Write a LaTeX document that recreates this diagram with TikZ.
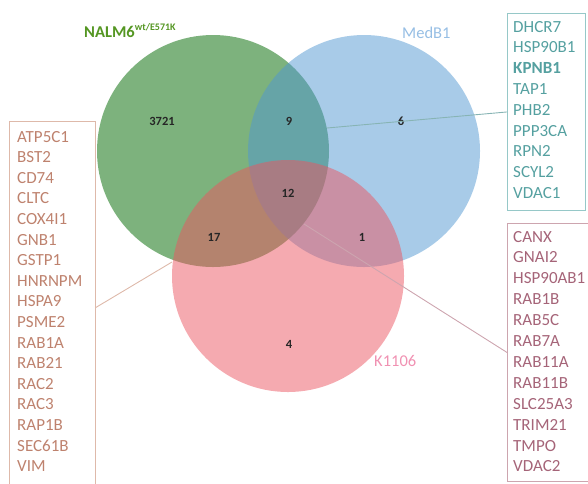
\documentclass[tikz,border=0pt]{standalone}
\usepackage{fontspec}
\setmainfont{Carlito}
\usetikzlibrary{calc}
\definecolor{cgreen}{RGB}{125,178,125}
\definecolor{cblue}{RGB}{81,151,209}
\definecolor{cpink}{RGB}{235,85,97}
\definecolor{tgreen}{RGB}{84,150,34}
\definecolor{tblue}{RGB}{150,190,228}
\definecolor{tpink}{RGB}{240,145,178}
\definecolor{tteal}{RGB}{85,160,160}
\definecolor{bteal}{RGB}{150,200,200}
\definecolor{tbrown}{RGB}{190,130,110}
\definecolor{bbrown}{RGB}{222,185,170}
\definecolor{tmauve}{RGB}{165,100,120}
\definecolor{bmauve}{RGB}{205,165,175}
\tikzset{
  setcircle/.style={circle, minimum size=232pt, inner sep=0pt},
  countlbl/.style={font=\fontsize{12.5}{14}\selectfont\bfseries, text=black!85},
  genelbl/.style={anchor=base west, inner sep=0pt, font=\fontsize{17}{20}\selectfont},
  listbox/.style={anchor=north west, inner sep=0pt, line width=0.9pt},
  conn/.style={line width=0.9pt}
}
\begin{document}
\begin{tikzpicture}[x=1pt,y=-1pt]
\useasboundingbox (0,0) rectangle (588,483);
\clip (0,0) rectangle (588,483);
% circles
\node[setcircle, fill=cgreen] (cG) at (213,151) {};
\node[setcircle, fill=cblue, fill opacity=0.5] (cB) at (364,151) {};
\node[setcircle, fill=cpink, fill opacity=0.5] (cP) at (288,276) {};
% set titles
\node[anchor=base west, inner sep=0pt, text=tgreen, font=\fontsize{16.5}{20}\selectfont\bfseries] (tG) at (84,37) {NALM6\textsuperscript{\fontsize{10}{12}\selectfont wt/E571K}};
\node[anchor=base west, inner sep=0pt, text=tblue, font=\fontsize{16.5}{20}\selectfont] (tB) at (402,38) {MedB1};
\node[anchor=base west, inner sep=0pt, text=tpink, font=\fontsize{16.5}{20}\selectfont] (tP) at (374,366) {K1106};
% counts
\node[countlbl] (n3721) at (162,121) {3721};
\node[countlbl] (n9) at (289,121) {9};
\node[countlbl] (n6) at (401,121) {6};
\node[countlbl] (n12) at (288,193) {12};
\node[countlbl] (n17) at (214,237) {17};
\node[countlbl] (n1) at (362,237) {1};
\node[countlbl] (n4) at (289,344) {4};
% boxes
\node[listbox, draw=bteal, minimum width=78pt, minimum height=197pt] (boxT) at (507,13) {};
\node[listbox, draw=bbrown, minimum width=86pt, minimum height=372pt] (boxL) at (9,121) {};
\node[listbox, draw=bmauve, minimum width=100pt, minimum height=258pt] (boxR) at (507,223) {};
% connectors
\coordinate (eT) at (327,128);
\coordinate (eL) at (172,262);
\coordinate (eR) at (304,224);
\draw[conn, draw=bteal!90!black] (boxT.west) -- (eT);
\draw[conn, draw=bbrown] (boxL.west -| boxL.east) -- (eL);
\draw[conn, draw=bmauve] (boxR.west) -- (eR);
% lists
\foreach \g [count=\i] in {DHCR7,HSP90B1,{\bfseries KPNB1},TAP1,PHB2,PPP3CA,RPN2,SCYL2,VDAC1}
  \node[genelbl, text=tteal] (gT\i) at (513,{32+20.8*(\i-1)}) {\g};
\foreach \g [count=\i] in {ATP5C1,BST2,CD74,CLTC,COX4I1,GNB1,GSTP1,HNRNPM,HSPA9,PSME2,RAB1A,RAB21,RAC2,RAC3,RAP1B,SEC61B,VIM}
  \node[genelbl, text=tbrown] (gL\i) at (17,{142+20.6*(\i-1)}) {\g};
\foreach \g [count=\i] in {CANX,GNAI2,HSP90AB1,RAB1B,RAB5C,RAB7A,RAB11A,RAB11B,SLC25A3,TRIM21,TMPO,VDAC2}
  \node[genelbl, text=tmauve] (gR\i) at (513,{242+20.9*(\i-1)}) {\g};
\end{tikzpicture}
\end{document}
